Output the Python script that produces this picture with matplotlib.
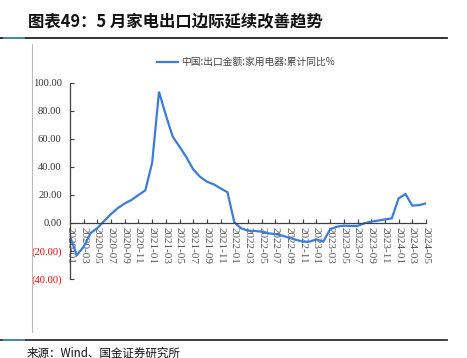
import matplotlib
matplotlib.use("Agg")
import matplotlib.pyplot as plt
from matplotlib.lines import Line2D
import numpy as np

months = ["2020-01","2020-02","2020-03","2020-04","2020-05","2020-06","2020-07","2020-08","2020-09","2020-10","2020-11","2020-12",
          "2021-01","2021-02","2021-03","2021-04","2021-05","2021-06","2021-07","2021-08","2021-09","2021-10","2021-11","2021-12",
          "2022-01","2022-02","2022-03","2022-04","2022-05","2022-06","2022-07","2022-08","2022-09","2022-10","2022-11","2022-12",
          "2023-01","2023-02","2023-03","2023-04","2023-05","2023-06","2023-07","2023-08","2023-09","2023-10","2023-11","2023-12",
          "2024-01","2024-02","2024-03","2024-04","2024-05"]
values = [-9.8, -22.9, -17.0, -7.2, -3.6, 1.5, 6.4, 10.7, 14.0, 16.5, 20.0, 23.3,
          43.0, 93.8, 77.0, 61.7, 54.5, 47.0, 38.3, 33.0, 29.5, 27.6, 24.7, 22.0,
          0.5, -3.8, -5.5, -5.7, -6.2, -7.4, -7.9, -9.0, -10.5, -12.0, -13.3, -13.3,
          -11.7, -13.3, -4.5, -2.6, -1.9, -2.1, -2.1, -0.2, 1.0, 1.7, 2.6, 3.3,
          17.6, 20.7, 12.4, 12.8, 14.0]
yticks = [100, 80, 60, 40, 20, 0, -20, -40]
ylabels = ["100.00", "80.00", "60.00", "40.00", "20.00", "0.00", "(20.00)", "(40.00)"]
series_name = "中国:出口金额:家用电器:累计同比%"
title = "图表49：5 月家电出口边际延续改善趋势"
source = "来源：Wind、国金证券研究所"

W, H = 467, 358
fig = plt.figure(figsize=(W/100, H/100), dpi=100)
cjk = ["Noto Sans CJK SC", "DejaVu Sans"]
serif = ["Liberation Serif", "DejaVu Serif"]

ax = fig.add_axes([70/W, 1-279/H, (426-70)/W, (279-83)/H])
x = np.arange(len(months))
line, = ax.plot(x, values, color="#3B7DD8", lw=1.6, solid_joinstyle="miter")
ax.set_xlim(0, len(months)-1)
ax.set_ylim(-40, 100)
for s in ["top", "right"]:
    ax.spines[s].set_visible(False)
ax.spines["bottom"].set_position(("data", 0))
ax.spines["bottom"].set_color("#404040")
ax.spines["left"].set_color("#404040")
ax.spines["bottom"].set_linewidth(0.9)
ax.spines["left"].set_linewidth(0.9)
ax.set_yticks(yticks)
ax.set_yticklabels(ylabels, fontfamily=serif, fontsize=7.6)
for lab, v in zip(ax.get_yticklabels(), yticks):
    lab.set_color("#FF0000" if v < 0 else "#333333")
ax.tick_params(axis="y", direction="in", length=3, pad=6, color="#404040")
ax.set_xticks(x[::2])
ax.set_xticklabels(months[::2], rotation=270, fontfamily=serif, fontsize=8, color="#555555")
ax.tick_params(axis="x", direction="in", length=3, pad=3, color="#404040")

fig.legend([Line2D([0], [0], color="#3B7DD8", lw=1.6)], [series_name],
           loc="center left", bbox_to_anchor=(157/W, 1-62/H), frameon=False,
           prop={"family": cjk, "size": 7.0}, handlelength=2.2, handletextpad=0.3,
           labelcolor="#444444", borderaxespad=0, borderpad=0)

fig.text(28/W, 1-21/H, title, fontfamily=cjk, fontsize=11.8, fontweight="bold",
         color="#111111", va="center", ha="left")
fig.text(27/W, 1-353/H, source, fontfamily=cjk, fontsize=8.3, color="#111111", va="center", ha="left")

# frame lines
fig.add_artist(Line2D([0, 447/W], [1-37.5/H]*2, color="#222222", lw=1.3, transform=fig.transFigure))
fig.add_artist(Line2D([4/W, 24/W], [1-37.5/H]*2, color="#4A90C0", lw=1.3, transform=fig.transFigure))
fig.add_artist(Line2D([0, 447/W], [1-340/H]*2, color="#333333", lw=1.3, transform=fig.transFigure))
fig.add_artist(Line2D([4/W, 24/W], [1-340/H]*2, color="#4A90C0", lw=1.3, transform=fig.transFigure))
fig.add_artist(Line2D([32/W, 32/W], [1-44/H, 1-332/H], color="#BBBBBB", lw=0.8, transform=fig.transFigure))

fig.savefig("out.png", dpi=100)
